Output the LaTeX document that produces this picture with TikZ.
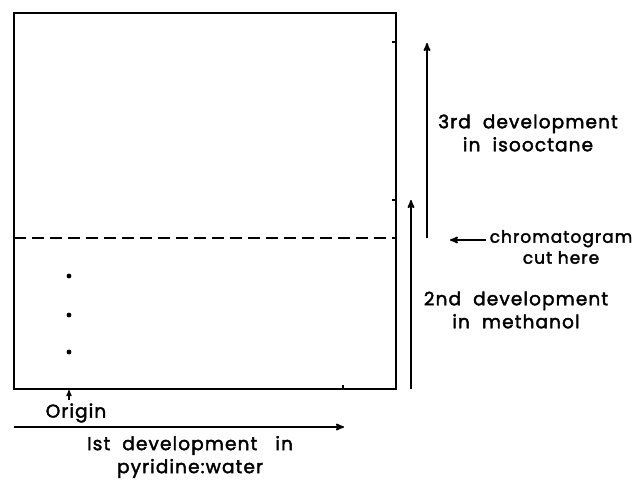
\documentclass[tikz,border=0pt]{standalone}
\usepackage{fontspec}
\newfontfamily\leroy{Poppins}[FakeBold=2.2, LetterSpace=6]
\usetikzlibrary{arrows}
\usetikzlibrary{positioning}
\tikzset{
	every node/.append style={align=center, font=\leroy\fontsize{18.5}{23}\selectfont},
	plate/.style={draw, line width=1.6pt},
	cutline/.style={draw, dash pattern=on 12pt off 6pt, line width=1.4pt},
	dev/.style={->, >=stealth', line width=1.7pt, shorten >=-2pt},
	notch/.style={draw, line width=1.2pt},
	spot/.style={circle, fill, inner sep=1.7pt}
}
\begin{document}
\begin{tikzpicture}[x=1pt, y=-1pt]
	\useasboundingbox (0,0) rectangle (639,487);

	% the paper
	\coordinate (tl) at (14,13);
	\coordinate (br) at (396,389);
	\draw[plate] (tl) rectangle (br);
	\coordinate (cutl) at (14,238);
	\coordinate (cutr) at (396,238);
	\draw[cutline] (cutl) -- (cutr);

	% front marks
	\draw[notch] (392,42) -- (396,42);
	\draw[notch] (392,200) -- (396,200);
	\draw[notch] (343,385) -- (343,389);

	% spots on the origin line
	\node[spot] (s1) at (69,276) {};
	\node[spot] (s2) at (69,315) {};
	\node[spot] (s3) at (69,352) {};

	\node (origin) at (76,413) {Origin};
	\coordinate (o) at (69,390);
	\draw[->, >=stealth', line width=1.2pt] (origin.north -| o) -- (o);

	% 1st development
	\coordinate (h1) at (14,427);
	\coordinate (h2) at (342,427);
	\draw[dev] (h1) -- (h2);
	\node (first) at (190,457) {Ist\ \ development\ \ \ in\\pyridine:water};

	% 2nd and 3rd development
	\coordinate (a2s) at (411,389);
	\coordinate (a2e) at (411,202);
	\draw[dev] (a2s) -- (a2e);
	\coordinate (a3s) at (427,238);
	\coordinate (a3e) at (427,45);
	\draw[dev] (a3s) -- (a3e);
	\node (third) at (528,133) {3rd\ \ development\\in\ \ isooctane};
	\node (second) at (516,310) {2nd\ \ development\\in\ \ methanol};

	% cut
	\node[font=\leroy\fontsize{17}{21}\selectfont] (chrom) at (561,247) {chromatogram\\cut here};
	\coordinate (cuttip) at (452,240);
	\draw[dev] (chrom.west |- cuttip) -- (cuttip);

\end{tikzpicture}
\end{document}
